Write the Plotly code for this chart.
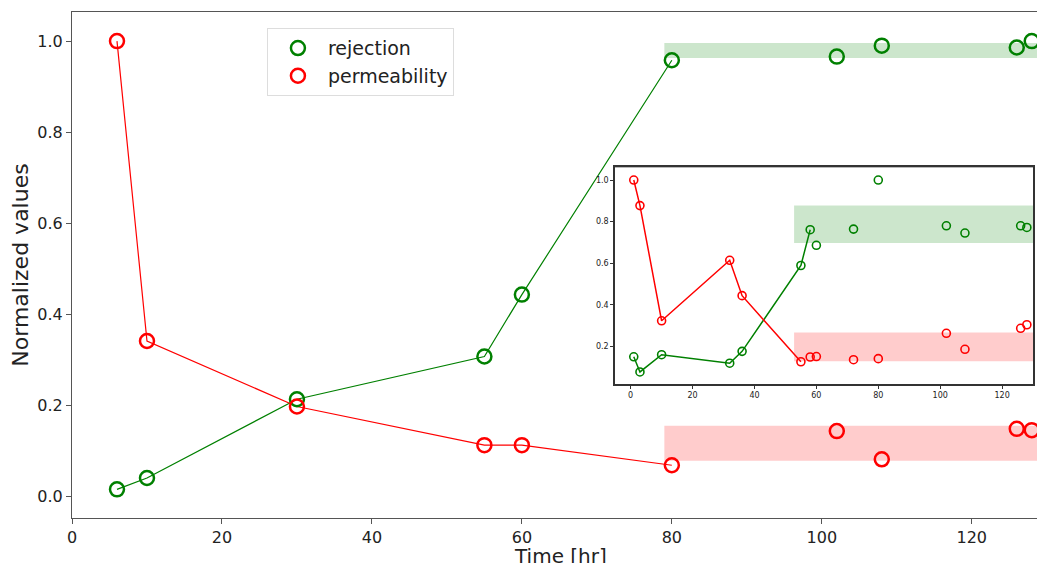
import plotly.graph_objects as go

GREEN = "green"
RED = "red"

# Main axes data
main_line_t = [6, 10, 30, 55, 60, 80]
main_rej_line = [0.015, 0.040, 0.213, 0.307, 0.443, 0.958]
main_perm_line = [1.0, 0.341, 0.197, 0.112, 0.112, 0.068]
main_extra_t = [102, 108, 126, 128]
main_rej_extra = [0.966, 0.990, 0.986, 1.0]
main_perm_extra = [0.143, 0.081, 0.148, 0.145]
main_rej_band = [0.963, 0.996]
main_perm_band = [0.078, 0.155]
main_band_start = 79

# Inset data
ins_line_t = [1, 3, 10, 32, 36, 55, 58]
ins_rej_line = [0.150, 0.077, 0.160, 0.119, 0.176, 0.589, 0.761]
ins_perm_t = [1, 3, 10, 32, 36, 55]
ins_perm_line = [1.0, 0.877, 0.323, 0.614, 0.444, 0.126]
ins_rej_extra_t = [60, 72, 80, 102, 108, 126, 128]
ins_rej_extra = [0.686, 0.764, 1.0, 0.780, 0.745, 0.780, 0.772]
ins_perm_extra_t = [58, 60, 72, 80, 102, 108, 126, 128]
ins_perm_extra = [0.149, 0.151, 0.136, 0.141, 0.263, 0.186, 0.287, 0.304]
ins_rej_band = [0.697, 0.877]
ins_perm_band = [0.129, 0.267]
ins_band_start = 52.8

fig = go.Figure()

# bands
fig.add_shape(type="rect", xref="x", yref="y", x0=main_band_start, x1=140,
              y0=main_rej_band[0], y1=main_rej_band[1], fillcolor="rgba(0,128,0,0.2)",
              line_width=0, layer="below")
fig.add_shape(type="rect", xref="x", yref="y", x0=main_band_start, x1=140,
              y0=main_perm_band[0], y1=main_perm_band[1], fillcolor="rgba(255,0,0,0.2)",
              line_width=0, layer="below")

# main lines
fig.add_trace(go.Scatter(x=main_line_t, y=main_rej_line, mode="lines",
                         line=dict(color=GREEN, width=1.2), showlegend=False))
fig.add_trace(go.Scatter(x=main_line_t, y=main_perm_line, mode="lines",
                         line=dict(color=RED, width=1.2), showlegend=False))
mk_main = lambda c: dict(symbol="circle-open", size=14, color=c, line=dict(width=2.5, color=c))
fig.add_trace(go.Scatter(x=main_line_t + main_extra_t, y=main_rej_line + main_rej_extra,
                         mode="markers", marker=mk_main(GREEN), name="rejection", cliponaxis=True))
fig.add_trace(go.Scatter(x=main_line_t + main_extra_t, y=main_perm_line + main_perm_extra,
                         mode="markers", marker=mk_main(RED), name="permeability", cliponaxis=True))

# inset
fig.add_shape(type="rect", xref="x2", yref="y2", x0=ins_band_start, x1=140,
              y0=ins_rej_band[0], y1=ins_rej_band[1], fillcolor="rgba(0,128,0,0.2)",
              line_width=0, layer="below")
fig.add_shape(type="rect", xref="x2", yref="y2", x0=ins_band_start, x1=140,
              y0=ins_perm_band[0], y1=ins_perm_band[1], fillcolor="rgba(255,0,0,0.2)",
              line_width=0, layer="below")
mk_ins = lambda c: dict(symbol="circle-open", size=8, color=c, line=dict(width=1.6, color=c))
fig.add_trace(go.Scatter(x=ins_line_t, y=ins_rej_line, mode="lines+markers", xaxis="x2", yaxis="y2",
                         line=dict(color=GREEN, width=1.5), marker=mk_ins(GREEN), showlegend=False))
fig.add_trace(go.Scatter(x=ins_perm_t, y=ins_perm_line, mode="lines+markers", xaxis="x2", yaxis="y2",
                         line=dict(color=RED, width=1.5), marker=mk_ins(RED), showlegend=False))
fig.add_trace(go.Scatter(x=ins_rej_extra_t, y=ins_rej_extra, mode="markers", xaxis="x2", yaxis="y2",
                         marker=mk_ins(GREEN), showlegend=False))
fig.add_trace(go.Scatter(x=ins_perm_extra_t, y=ins_perm_extra, mode="markers", xaxis="x2", yaxis="y2",
                         marker=mk_ins(RED), showlegend=False))

# white background for inset
fig.add_shape(type="rect", xref="paper", yref="paper", x0=0.5627, x1=0.9959, y0=0.2648, y1=0.693,
              fillcolor="white", line=dict(color="#333", width=1.5), layer="below")

font = "DejaVu Sans, sans-serif"

# x-axis title as annotation (placed just below the tick labels)
fig.add_annotation(text="Time [hr]", xref="paper", yref="paper", x=0.506, y=-0.075,
                   xanchor="center", yanchor="middle", showarrow=False,
                   font=dict(size=20, family=font, color="#222"))

fig.update_layout(
    width=1037, height=563,
    margin=dict(l=72, r=0, t=12, b=45, autoexpand=False),
    paper_bgcolor="white", plot_bgcolor="white",
    font=dict(family=font, color="#222"),
    legend=dict(x=0.202, y=0.968, xanchor="left", yanchor="top",
                bgcolor="rgba(255,255,255,0.9)", bordercolor="#ddd", borderwidth=1,
                font=dict(size=19, family=font), itemwidth=50, tracegroupgap=4),
    xaxis=dict(range=[0, 128.7], domain=[0, 1], tickvals=[0, 20, 40, 60, 80, 100, 120],
               automargin=False,
               showgrid=False, zeroline=False, showline=True, linecolor="#555", linewidth=1,
               mirror=True, ticks="outside", ticklen=5, tickcolor="#555",
               tickfont=dict(size=16)),
    yaxis=dict(range=[-0.048, 1.064], domain=[0, 1], tickvals=[0, 0.2, 0.4, 0.6, 0.8, 1.0],
               automargin=False,
               tickformat=".1f", showgrid=False, zeroline=False, showline=True, linecolor="#555",
               linewidth=1, ticks="outside", ticklen=5, tickcolor="#555",
               tickfont=dict(size=16), title=dict(text="Normalized values", font=dict(size=22), standoff=2)),
    xaxis2=dict(range=[-5.06, 130.0], domain=[0.5627, 0.9959], anchor="y2",
                automargin=False,
                tickvals=[0, 20, 40, 60, 80, 100, 120], showgrid=False, zeroline=False,
                showline=True, linecolor="#333", linewidth=1.5, mirror=True,
                ticks="outside", ticklen=3, tickcolor="#333", tickfont=dict(size=8)),
    yaxis2=dict(range=[0.019, 1.061], domain=[0.2648, 0.693], anchor="x2",
                automargin=False,
                tickvals=[0.2, 0.4, 0.6, 0.8, 1.0], tickformat=".1f", showgrid=False, zeroline=False,
                showline=True, linecolor="#333", linewidth=1.5, mirror=True,
                ticks="outside", ticklen=3, tickcolor="#333", tickfont=dict(size=8)),
)

fig.write_html("out.html", config={"displayModeBar": False},
               post_script="document.body.style.margin='0';document.body.style.overflow='hidden';")
